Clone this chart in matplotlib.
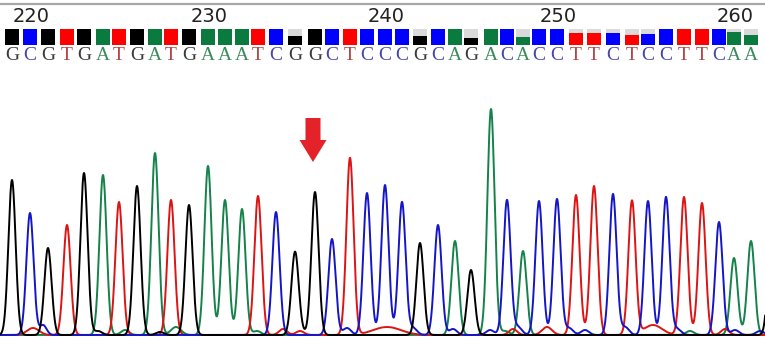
import numpy as np
import matplotlib
matplotlib.use("Agg")
import matplotlib.pyplot as plt
from matplotlib.patches import FancyArrow

# ---- data ----
bases = list("GCGTGATGATGAAATCGGCTCCCGCAGACACCTTCTCCTTCAA")
first_base = 219
peak_pos = [12, 30, 48, 67, 84, 103, 119, 137, 155, 171, 189, 208, 225, 242, 258,
            276, 295, 315, 332, 350, 367, 385, 402, 420, 438, 455, 471, 491, 507,
            523, 539, 557, 576, 594, 613, 632, 648, 666, 684, 702, 719, 734, 751]
peak_height = [155, 122, 87, 110, 162, 160, 133, 149, 182, 135, 130, 169, 135, 126, 139,
               123, 82, 143, 96, 177, 142, 150, 133, 92, 110, 94, 65, 226, 135,
               84, 134, 136, 140, 149, 141, 134, 134, 138, 138, 132, 113, 77, 94]
quality = [1, 1, 1, 1, 1, 1, 1, 1, 1, 1, 1, 1, 1, 1, 1,
           1, 0.56, 1, 1, 1, 1, 1, 1, 0.56, 1, 1, 0.46, 1, 1,
           0.47, 1, 1, 0.75, 0.75, 0.75, 0.64, 0.7, 1, 1, 1, 1, 0.8, 0.64]
# next base, cut off at the right edge (bar and trace only)
edge_base = "G"
edge_pos = 772
edge_height = 120
edge_quality = 1.0

# minor (background) peaks per channel: positions, heights, widths
minor = {
    "A": ([125, 176, 257, 505, 690], [5, 8, 4, 4, 4], [4, 5, 4, 4, 4]),
    "C": ([43, 347, 413, 453, 490, 518, 569, 585, 625, 677, 735, 760],
          [10, 7, 7, 6, 5, 8, 7, 5, 8, 6, 5, 4], [3.5, 4, 4, 4, 4, 4, 4, 4, 4, 4, 4, 4]),
    "T": ([33, 283, 300, 387, 513, 547, 653, 725],
          [7, 6, 4, 8, 6, 8, 10, 6], [6, 4, 4, 14, 4, 5, 9, 4]),
    "G": ([98, 160, 300], [4, 3, 3], [4, 4, 4]),
}

tick_labels = [220, 230, 240, 250, 260]

trace_color = {"G": "#000000", "C": "#1515c8", "T": "#dc1414", "A": "#14824a"}
bar_color = {"G": "#000000", "C": "#0000ff", "T": "#ff0000", "A": "#0a7a3e"}
text_color = {"G": "#3a3a3a", "C": "#4646a8", "T": "#b44848", "A": "#3a8c5c"}

W, H = 765, 346
fig = plt.figure(figsize=(W / 100, H / 100), dpi=100)
fig.patch.set_facecolor("white")

# ---- header axes (pixel coordinates, y downward) ----
hdr_h = 75
axh = fig.add_axes([0, 1 - hdr_h / H, 1, hdr_h / H])
axh.set_xlim(0, W)
axh.set_ylim(hdr_h, 0)
axh.axis("off")
axh.plot([0, W], [4, 4], color="#a8a8a8", lw=1.6, solid_capstyle="butt")

all_pos = peak_pos + [edge_pos]
all_bases = bases + [edge_base]
all_q = quality + [edge_quality]
bar_w = 14.5
bar_top, bar_bot = 29, 45
for p, b, q in zip(all_pos, all_bases, all_q):
    full = bar_bot - bar_top
    if q < 1:
        axh.add_patch(plt.Rectangle((p - bar_w / 2, bar_top), bar_w, full * (1 - q),
                                    facecolor="#dadada", edgecolor="none"))
    axh.add_patch(plt.Rectangle((p - bar_w / 2, bar_bot - full * q), bar_w, full * q,
                                facecolor=bar_color[b], edgecolor="none"))

for p, b in zip(peak_pos, bases):
    axh.text(p, 56, b, color=text_color[b], ha="center", va="center",
             fontsize=14, family="Liberation Serif")

for lab in tick_labels:
    idx = lab - first_base
    axh.text(peak_pos[idx] + 1, 16, str(lab), ha="center", va="center",
             fontsize=14, color="#222222", family="DejaVu Sans")

# ---- trace axes ----
tr_h = 246
base_off = 11
axt = fig.add_axes([0, 0, 1, tr_h / H])
axt.set_xlim(0, W)
axt.set_ylim(-base_off, tr_h - base_off)
axt.axis("off")

x = np.linspace(-10, W + 20, 4000)
sig = 3.6
order = ["A", "T", "C", "G"]
for ch in order:
    y = np.zeros_like(x)
    for p, b, h in zip(all_pos, all_bases, peak_height + [edge_height]):
        if b == ch:
            y += h * np.exp(-0.5 * ((x - p) / sig) ** 2)
    mp, mh, mw = minor[ch]
    for p, h, w in zip(mp, mh, mw):
        y += h * np.exp(-0.5 * ((x - p) / w) ** 2)
    axt.plot(x, y, color=trace_color[ch], lw=1.4)

# red arrow marking the variant base (index 17, G at 236)
mark = 17
axt.add_patch(FancyArrow(peak_pos[mark] - 2, 335 - 118, 0, -(162 - 118),
                         width=15, head_width=27, head_length=22,
                         length_includes_head=True, color="#e4222a", lw=0))

fig.savefig("out.png", dpi=100, facecolor="white")
